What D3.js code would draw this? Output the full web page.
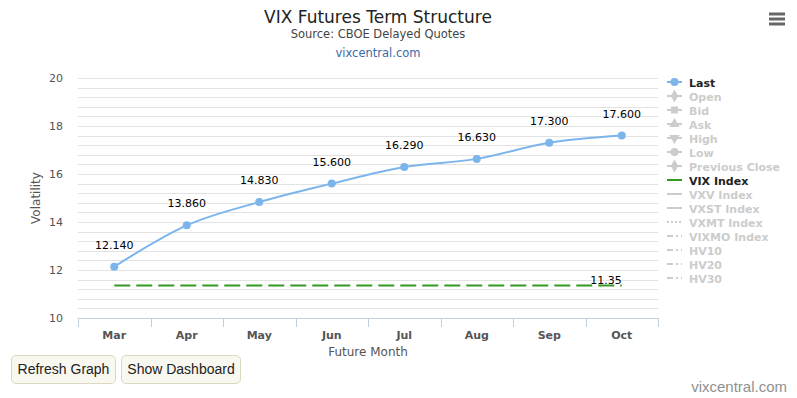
<!DOCTYPE html>
<html>
<head>
<meta charset="utf-8">
<script src="https://cdn.jsdelivr.net/npm/d3@7"></script>
<style>
  html, body { margin: 0; padding: 0; background: #fff; }
  #chart { position: relative; width: 797px; height: 398px; overflow: hidden; }
  .btn {
    position: absolute; top: 355px; height: 29px; box-sizing: border-box;
    background: #f8f8f0; border: 1px solid #ddd8c0; border-radius: 5px;
    font-family: "Liberation Sans", Arial, sans-serif; font-size: 14px; color: #222;
    line-height: 27px; text-align: center;
  }
</style>
</head>
<body>
<div id="chart"></div>
<script>
// chart values
const months = ['Mar', 'Apr', 'May', 'Jun', 'Jul', 'Aug', 'Sep', 'Oct'];
const lastValues = [12.14, 13.86, 14.83, 15.6, 16.29, 16.63, 17.3, 17.6];
const vixIndex = [11.35, 11.35, 11.35, 11.35, 11.35, 11.35, 11.35, 11.35];
const yTicks = [10, 12, 14, 16, 18, 20];
const legendNames = ['Last', 'Open', 'Bid', 'Ask', 'High', 'Low', 'Previous Close',
  'VIX Index', 'VXV Index', 'VXST Index', 'VXMT Index', 'VIXMO Index', 'HV10', 'HV20', 'HV30'];
const legendSymbols = ['circle', 'diamond', 'square', 'triangle', 'triangle-down', 'circle', 'diamond',
  'solid', 'solid', 'solid', 'dot', 'dashdot', 'dashdot', 'dashdot', 'dashdot'];
const legendActive = ['Last', 'VIX Index'];

const width = 797, height = 398;
const plot = { left: 78, right: 658, top: 78, bottom: 318 };
const font = '"Lucida Grande", "DejaVu Sans", sans-serif';

const svg = d3.select('#chart').append('svg')
  .attr('width', width)
  .attr('height', height)
  .style('position', 'absolute')
  .style('left', 0).style('top', 0)
  .style('font-family', font);

const x = d3.scaleBand().domain(months).range([plot.left, plot.right]);
const y = d3.scaleLinear().domain([10, 20]).range([plot.bottom, plot.top]);
const cx = d => x(d) + x.bandwidth() / 2;

// titles
svg.append('text').attr('x', 378).attr('y', 23).attr('text-anchor', 'middle')
  .attr('font-size', 17).attr('fill', '#222').text('VIX Futures Term Structure');
svg.append('text').attr('x', 378).attr('y', 38).attr('text-anchor', 'middle')
  .attr('font-size', 11.5).attr('fill', '#444').text('Source: CBOE Delayed Quotes');
svg.append('text').attr('x', 378).attr('y', 57).attr('text-anchor', 'middle')
  .attr('font-size', 11.5).attr('fill', '#3c6aa8').text('vixcentral.com');

// grid lines, minor every 0.4
const gridVals = d3.range(0, 26).map(i => 10 + i * 0.4);
svg.append('g').selectAll('line').data(gridVals).join('line')
  .attr('x1', plot.left).attr('x2', plot.right)
  .attr('y1', d => Math.round(y(d)) + 0.5).attr('y2', d => Math.round(y(d)) + 0.5)
  .attr('stroke', '#e2e2e2').attr('stroke-width', 1);

// y axis labels
const yAxis = svg.append('g').attr('transform', `translate(${plot.left},0)`)
  .call(d3.axisLeft(y).tickValues(yTicks).tickSize(0).tickPadding(15));
yAxis.select('.domain').remove();
yAxis.selectAll('text').attr('font-size', 11).attr('fill', '#555').style('font-family', font);

svg.append('text')
  .attr('transform', `translate(40,${(plot.top + plot.bottom) / 2}) rotate(-90)`)
  .attr('text-anchor', 'middle').attr('font-size', 12).attr('fill', '#555').text('Volatility');

// x axis
const xAxis = svg.append('g').attr('transform', `translate(0,${plot.bottom})`)
  .call(d3.axisBottom(x).tickSize(0).tickPadding(13));
xAxis.select('.domain').attr('stroke', '#c0d0e0').attr('d', `M${plot.left},0.5H${plot.right}`);
xAxis.selectAll('text').attr('font-size', 11).attr('font-weight', 'bold')
  .attr('fill', '#555').style('font-family', font);
const bounds = months.map(m => x(m)).concat([plot.right]);
svg.append('g').selectAll('line').data(bounds).join('line')
  .attr('x1', d => Math.round(d) + 0.5).attr('x2', d => Math.round(d) + 0.5)
  .attr('y1', plot.bottom).attr('y2', plot.bottom + 9)
  .attr('stroke', '#c0d0e0');

svg.append('text').attr('x', (plot.left + plot.right) / 2).attr('y', 356)
  .attr('text-anchor', 'middle').attr('font-size', 12).attr('fill', '#555').text('Future Month');

// VIX index dashed line
const vixLine = d3.line().x((d, i) => cx(months[i])).y(d => y(d));
svg.append('path').datum(vixIndex)
  .attr('d', vixLine).attr('fill', 'none')
  .attr('stroke', '#339922').attr('stroke-width', 2).attr('stroke-dasharray', '16,6');
svg.append('text')
  .attr('x', cx(months[months.length - 1])).attr('y', y(vixIndex[vixIndex.length - 1]) - 2)
  .attr('text-anchor', 'end').attr('font-size', 11).attr('fill', '#000')
  .text(vixIndex[vixIndex.length - 1].toFixed(2));

// last series
const lastLine = d3.line().x((d, i) => cx(months[i])).y(d => y(d)).curve(d3.curveMonotoneX);
svg.append('path').datum(lastValues)
  .attr('d', lastLine).attr('fill', 'none')
  .attr('stroke', '#7cb5ec').attr('stroke-width', 2);
svg.append('g').selectAll('circle').data(lastValues).join('circle')
  .attr('cx', (d, i) => cx(months[i])).attr('cy', d => y(d)).attr('r', 4)
  .attr('fill', '#7cb5ec');
svg.append('g').selectAll('text').data(lastValues).join('text')
  .attr('x', (d, i) => cx(months[i])).attr('y', d => y(d) - 18)
  .attr('text-anchor', 'middle').attr('font-size', 11).attr('fill', '#000')
  .text(d => d3.format('.3f')(d));

// legend
const legend = svg.append('g').attr('transform', 'translate(667,82)');
const symbolMap = {
  circle: d3.symbolCircle, diamond: d3.symbolDiamond, square: d3.symbolSquare,
  triangle: d3.symbolTriangle
};
legendNames.forEach((name, i) => {
  const g = legend.append('g').attr('transform', `translate(0,${i * 14})`);
  const active = legendActive.includes(name);
  const col = name === 'Last' ? '#7cb5ec' : name === 'VIX Index' ? '#339922' : '#ccc';
  const sym = legendSymbols[i];
  const line = g.append('line').attr('x1', 0).attr('x2', 15).attr('y1', 0).attr('y2', 0)
    .attr('stroke', col).attr('stroke-width', 2);
  if (sym === 'dot') line.attr('stroke-dasharray', '2,2');
  if (sym === 'dashdot') line.attr('stroke-dasharray', '6,3,2,3');
  if (symbolMap[sym] || sym === 'triangle-down') {
    const t = sym === 'triangle-down' ? d3.symbolTriangle : symbolMap[sym];
    g.append('path').attr('d', d3.symbol().type(t).size(sym === 'circle' ? 50 : 48)())
      .attr('transform', `translate(7.5,0)${sym === 'triangle-down' ? ' rotate(180)' : ''}`)
      .attr('fill', col);
  }
  g.append('text').attr('x', 22).attr('y', 4.5)
    .attr('font-size', 11).attr('font-weight', 'bold')
    .attr('fill', active ? '#222' : '#ccc').text(name);
});

// menu icon
svg.append('g').selectAll('line').data([14, 19, 24]).join('line')
  .attr('x1', 769).attr('x2', 785).attr('y1', d => d).attr('y2', d => d)
  .attr('stroke', '#666').attr('stroke-width', 3);

// credit
svg.append('text').attr('x', 787).attr('y', 392).attr('text-anchor', 'end')
  .attr('font-size', 15).attr('fill', '#909090')
  .style('font-family', '"Liberation Sans", Arial, sans-serif').text('vixcentral.com');

// buttons
const chart = d3.select('#chart');
chart.append('div').attr('class', 'btn').style('left', '11px').style('width', '105px').text('Refresh Graph');
chart.append('div').attr('class', 'btn').style('left', '121px').style('width', '120px').text('Show Dashboard');
</script>
</body>
</html>
